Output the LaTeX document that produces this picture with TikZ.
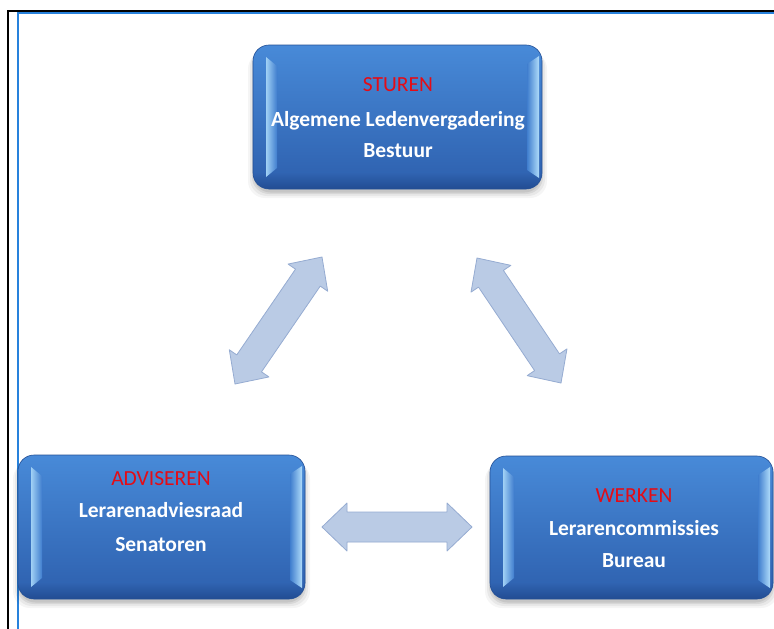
\documentclass[tikz,border=0pt]{standalone}
\usepackage{fontspec}
\setmainfont{Carlito}
\usetikzlibrary{calc}
\definecolor{sred}{RGB}{228,12,22}
\definecolor{bordblue}{RGB}{40,130,220}
\definecolor{boxtop}{RGB}{72,138,216}
\definecolor{boxmid}{RGB}{56,118,198}
\definecolor{boxlow}{RGB}{48,100,178}
\definecolor{boxbot}{RGB}{34,76,146}
\definecolor{stripL}{RGB}{160,208,245}
\definecolor{stripR}{RGB}{175,220,250}
\definecolor{stripB}{RGB}{64,126,206}
\definecolor{boxedge}{RGB}{36,80,150}
\definecolor{arfill}{RGB}{186,203,229}
\definecolor{aredge}{RGB}{150,172,210}
\tikzset{
  redtxt/.style={anchor=base, text=sred, font=\fontsize{21.5}{26}\selectfont},
  whtxt/.style={anchor=base, text=white, font=\fontsize{21.5}{26}\selectfont\bfseries},
  arrowst/.style={fill=arfill, draw=aredge, line width=0.8pt, line join=round},
  arrowshadow/.style={fill=black, opacity=0.10, xshift=1.5pt, yshift=-3pt},
}
\newcommand\bevbox[5]{%
  \foreach \s/\o in {7/0.04,5/0.05,3/0.07,1.5/0.08}{%
    \fill[black,opacity=\o,rounded corners=17pt] (#2-\s+2,#3+\s) rectangle (#4+\s-2,#5+\s+2);}
  \begin{scope}
    \clip[rounded corners=16pt] (#2,#3) rectangle (#4,#5);
    \shade[top color=boxtop, middle color=boxmid, bottom color=boxlow] (#2,#3) rectangle (#4,#5-16);
    \shade[top color=boxlow, bottom color=boxbot] (#2,#5-16.5) rectangle (#4,#5);
    \shade[left color=stripL, right color=stripB] (#2+13,#3+12) -- (#2+24,#3+21) -- (#2+24,#5-21) -- (#2+13,#5-12) -- cycle;
    \shade[left color=stripB, right color=stripR] (#4-15,#3+19) -- (#4-3,#3+11) -- (#4-3,#5-11) -- (#4-15,#5-19) -- cycle;
  \end{scope}
  \draw[boxedge, line width=0.6pt, rounded corners=16pt] (#2,#3) rectangle (#4,#5);
  \coordinate (#1) at ($(#2,#3)!0.5!(#4,#5)$);
}
\newcommand\blockarrow[3][]{%
  \path[#1] let \p1=($(#3)-(#2)$), \n1={atan2(\y1,\x1)}, \n2={veclen(\x1,\y1)} in
    [shift={(#2)}, rotate=\n1]
    (0pt,0pt) -- (25pt,24pt) -- (25pt,15pt) -- (\n2-25pt,15pt) -- (\n2-25pt,24pt)
    -- (\n2,0pt) -- (\n2-25pt,-24pt) -- (\n2-25pt,-15pt) -- (25pt,-15pt) -- (25pt,-24pt) -- cycle;
}
\begin{document}
\begin{tikzpicture}[x=1pt,y=-1pt]
\useasboundingbox (0,0) rectangle (774,629);
\fill[white] (0,0) rectangle (774,629);
% frame lines
\draw[black, line width=2pt] (8.3,629) -- (8.3,10.5) -- (774,10.5);
\draw[bordblue, line width=1.8pt] (18.3,629) -- (18.3,12.6) -- (774,12.6);

% boxes
\bevbox{sturen}{253}{45}{542}{189}
\bevbox{adviseren}{18}{455}{305}{599}
\bevbox{werken}{490}{456}{773}{599}

% texts
\node[redtxt] (t1a) at (398,91.7) {STUREN};
\node[whtxt]  (t1b) at (398,126.5) {Algemene Ledenvergadering};
\node[whtxt]  (t1c) at (398,157.7) {Bestuur};

\node[redtxt] (t2a) at (161,485) {ADVISEREN};
\node[whtxt]  (t2b) at (161,517.3) {Lerarenadviesraad};
\node[whtxt]  (t2c) at (161,551.7) {Senatoren};

\node[redtxt] (t3a) at (634,502.3) {WERKEN};
\node[whtxt]  (t3b) at (634,535.7) {Lerarencommissies};
\node[whtxt]  (t3c) at (634,567.7) {Bureau};

% block arrows
\coordinate (la) at (235,384);
\coordinate (lb) at (322,257);
\coordinate (ra) at (477,258);
\coordinate (rb) at (561,383);
\coordinate (ha) at (322,527);
\coordinate (hb) at (472,527);
\blockarrow[arrowshadow]{la}{lb}
\blockarrow[arrowst]{la}{lb}
\blockarrow[arrowshadow]{ra}{rb}
\blockarrow[arrowst]{ra}{rb}
\blockarrow[arrowshadow]{ha}{hb}
\blockarrow[arrowst]{ha}{hb}
\end{tikzpicture}
\end{document}
